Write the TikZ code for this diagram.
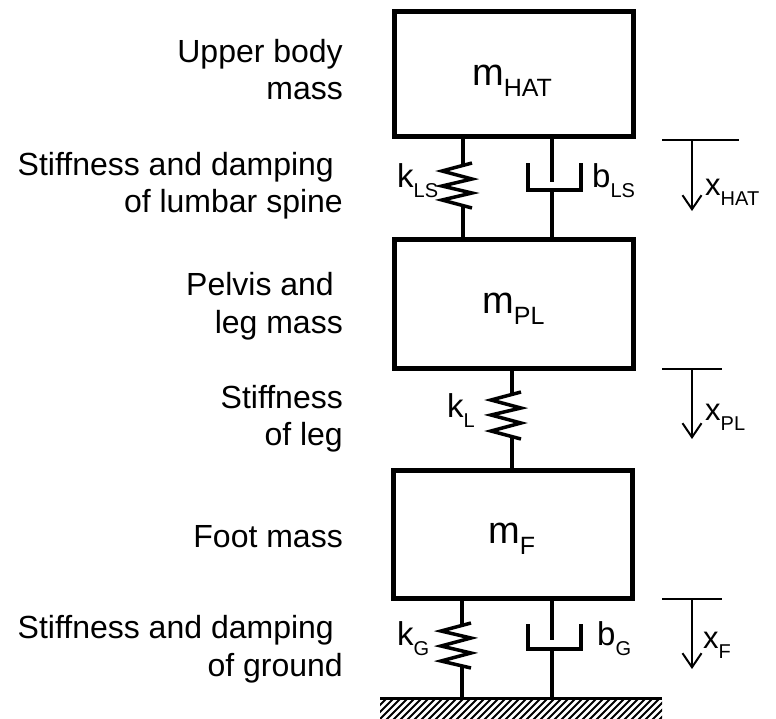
\documentclass[tikz,border=0pt]{standalone}
\usepackage{fontspec}
\setmainfont{Liberation Sans}
\usetikzlibrary{arrows.meta}
\newcommand{\lbl}{\fontsize{32}{38}\selectfont}
\newcommand{\sym}[3]{{\fontsize{#1}{#1}\selectfont #2}\raisebox{-10pt}{\fontsize{20}{20}\selectfont #3}}
\begin{document}
\begin{tikzpicture}[x=1pt,y=-1pt,
  mass/.style={draw,line width=5pt},
  rod/.style={line width=3.5pt},
  thin/.style={line width=2pt},
  txt/.style={inner sep=0pt,anchor=base east,font=\lbl},
  sy/.style={inner sep=0pt,anchor=base west}]
\useasboundingbox (0,0) rectangle (776,718);
% masses
\draw[mass] (394,11) rectangle (633,136);
\draw[mass] (394,239) rectangle (633,368);
\draw[mass] (393,470) rectangle (632,598);
% labels in masses
\node[sy] (mh) at (472,85) {\fontsize{38}{38}\selectfont m\raisebox{-11pt}{\fontsize{25}{25}\selectfont HAT}};
\node[sy] (mp) at (482,313) {\fontsize{38}{38}\selectfont m\raisebox{-11pt}{\fontsize{25}{25}\selectfont PL}};
\node[sy] (mf) at (488,543) {\fontsize{38}{38}\selectfont m\raisebox{-11pt}{\fontsize{25}{25}\selectfont F}};
% spring LS
\draw[rod,line join=miter] (463,136) -- (463,165.4);
\draw[rod,line join=miter] (472,163) -- (442,171) -- (472,179) -- (442,186) -- (472,193) -- (442,200) -- (472,208);
\draw[rod] (463,205.6) -- (463,239);
% damper LS
\draw[rod] (552,136) -- (552,182);
\draw[rod] (528,163) -- (528,190) -- (581,190) -- (581,163);
\draw[rod] (552,190) -- (552,239);
% spring L
\draw[rod] (512,368) -- (512,394.4);
\draw[rod] (521,392) -- (491,400) -- (521,408) -- (491,415) -- (521,423) -- (491,431) -- (521,439);
\draw[rod] (512,436.6) -- (512,470);
% spring G
\draw[rod] (462,598) -- (462,625.4);
\draw[rod] (471,623) -- (441,631) -- (471,638) -- (441,646) -- (471,653) -- (441,661) -- (471,668);
\draw[rod] (462,665.6) -- (462,698);
% damper G
\draw[rod] (552,598) -- (552,640);
\draw[rod] (528,624) -- (528,649) -- (581,649) -- (581,624);
\draw[rod] (552,649) -- (552,698);
% ground
\begin{scope}
\clip (380,699) rectangle (662,718);
\foreach \i in {0,...,44} {
  \draw[line width=2pt] ({364+\i*7},721) -- ({387+\i*7},698);
}
\end{scope}
\draw[line width=3pt] (380,698.5) -- (662,698.5);
% spring/damper labels
\node[sy] (kls) at (397,187) {\sym{33}{k}{LS}};
\node[sy] (bls) at (592,187) {\sym{33}{b}{LS}};
\node[sy] (kl) at (447,417) {\sym{33}{k}{L}};
\node[sy] (kg) at (397,645) {\sym{33}{k}{G}};
\node[sy] (bg) at (597,645) {\sym{33}{b}{G}};
% displacement arrows
\coordinate (h1) at (662,140); \coordinate (h2) at (739,140);
\coordinate (ha) at (692,140); \coordinate (hb) at (692,211);
\draw[thin] (h1) -- (h2);
\draw[thin,-{Straight Barb[length=14pt,width=19pt]}] (ha) -- (hb);
\node[sy] (xh) at (705,195) {\sym{31}{x}{HAT}};
\coordinate (p1) at (662,369); \coordinate (p2) at (722,369);
\coordinate (pa) at (692,369); \coordinate (pb) at (692,439);
\draw[thin] (p1) -- (p2);
\draw[thin,-{Straight Barb[length=14pt,width=19pt]}] (pa) -- (pb);
\node[sy] (xp) at (705,420) {\sym{31}{x}{PL}};
\coordinate (f1) at (662,599); \coordinate (f2) at (722,599);
\coordinate (fa) at (692,599); \coordinate (fb) at (692,669);
\draw[thin] (f1) -- (f2);
\draw[thin,-{Straight Barb[length=14pt,width=19pt]}] (fa) -- (fb);
\node[sy] (xf) at (703,648) {\sym{31}{x}{F}};
% left labels
\node[txt] (t1) at (343,62) {Upper body};
\node[txt] (t2) at (343,99) {mass};
\node[txt] (t3) at (334,175) {Stiffness and damping};
\node[txt] (t4) at (343,212) {of lumbar spine};
\node[txt] (t5) at (334,295) {Pelvis and};
\node[txt] (t6) at (343,333) {leg mass};
\node[txt] (t7) at (343,408) {Stiffness};
\node[txt] (t8) at (343,445) {of leg};
\node[txt] (t9) at (343,547) {Foot mass};
\node[txt] (t10) at (334,638) {Stiffness and damping};
\node[txt] (t11) at (343,676) {of ground};
\end{tikzpicture}
\end{document}
